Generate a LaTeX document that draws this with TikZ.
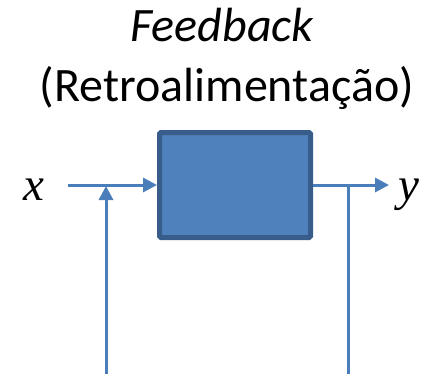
\documentclass[tikz,border=0pt]{standalone}
\usepackage{fontspec}
\setmainfont{Carlito}
\newfontfamily\serifmath{Liberation Serif}
\usetikzlibrary{arrows.meta}
\definecolor{linec}{HTML}{4A7EBB}
\definecolor{boxfill}{HTML}{4F81BD}
\definecolor{boxedge}{HTML}{385D8A}
\tikzset{
  wire/.style={draw=linec, line width=3pt},
  arr/.style={wire, -{Triangle[length=14pt,width=14pt]}},
  blockbox/.style={draw=boxedge, fill=boxfill, line width=5pt, rounded corners=1.5pt, minimum width=151pt, minimum height=105pt, inner sep=0pt},
  title/.style={font=\fontsize{48}{52}\selectfont, inner sep=0pt, anchor=base},
  var/.style={font=\serifmath\itshape\fontsize{47}{50}\selectfont, inner sep=0pt, anchor=base}
}
\begin{document}
\begin{tikzpicture}[x=1pt,y=-1pt]
\useasboundingbox (0,0) rectangle (443,374);
\node[title] (t1) at (222,42) {\itshape Feedback};
\node[title] (t2) at (227,102) {(Retroalimentação)};
\node[var] (x) at (34,200) {x};
\node[blockbox] (b) at (235,185) {};
\node[var] (y) at (409,200) {y};
\coordinate (xs) at (68,185);
\coordinate (ys) at (389,185);
\coordinate (fb) at (106,374);
\coordinate (fj) at (106,186);
\coordinate (ob) at (348,374);
\coordinate (oj) at (348,186);
\draw[arr] (xs) -- (b.west);
\draw[arr] (fb) -- (fj);
\draw[arr] (b.east) -- (ys);
\draw[wire] (oj) -- (ob);
\end{tikzpicture}
\end{document}
